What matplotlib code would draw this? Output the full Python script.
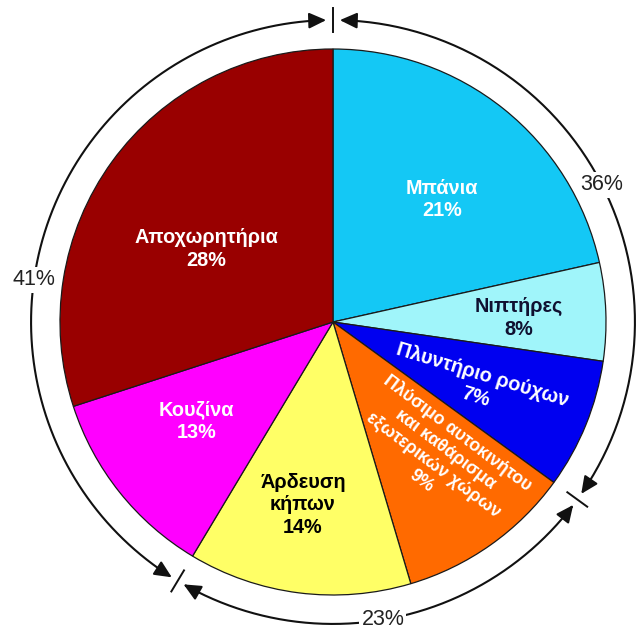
import numpy as np
import matplotlib.pyplot as plt
from matplotlib.patches import FancyArrowPatch
from matplotlib.path import Path

plt.rcParams['font.family'] = ['Liberation Sans', 'DejaVu Sans']

# Κατανάλωση νερού ανά χρήση (μέγεθος τομέων όπως φαίνεται στο σχήμα)
categories = ['Μπάνια', 'Νιπτήρες', 'Πλυντήριο ρούχων',
              'Πλύσιμο αυτοκινήτου\nκαι καθάρισμα\nεξωτερικών χώρων',
              'Άρδευση\nκήπων', 'Κουζίνα', 'Αποχωρητήρια']
sizes = [21.5, 5.8, 7.7, 10.4, 13.2, 11.4, 30.0]
pct_labels = ['21%', '8%', '7%', '9%', '14%', '13%', '28%']
colors = ['#14c8f5', '#a0f5fa', '#0000f0', '#ff6a00', '#ffff66', '#ff00ff', '#990000']
text_colors = ['white', '#101030', 'white', 'white', 'black', 'white', 'white']

# ομάδες (αριθμός τομέων σε κάθε ομάδα) και ποσοστά ομάδων
group_counts = [3, 2, 2]
group_labels = ['36%', '23%', '41%']

# θέσεις/περιστροφές ετικετών (layout)
label_pos = [(0.40, 0.45), (0.68, 0.015), (0.535, -0.234), (0.392, -0.495),
             (-0.11, -0.67), (-0.50, -0.363), (-0.465, 0.267)]
label_rot = [0, 0, -17, -37, 0, 0, 0]
label_fs = [14.3, 14.3, 14.3, 12.8, 14.3, 14.3, 14.3]
group_label_ang = [27, -80.5, 172]

fig = plt.figure(figsize=(6.4, 6.29), dpi=100)
L = 1.15
# κέντρο πίτας στα (333, 322) px, ακτίνα 273 px
ax = fig.add_axes([(333 - L * 273) / 640, (307 - L * 273) / 629,
                   2 * L * 273 / 640, 2 * L * 273 / 629])
ax.pie(sizes, colors=colors, startangle=90, counterclock=False, radius=1,
       wedgeprops=dict(edgecolor='#1a1a1a', linewidth=0.9))
ax.set_xlim(-L, L)
ax.set_ylim(-L, L)
ax.axis('off')

for i, cat in enumerate(categories):
    ax.text(label_pos[i][0], label_pos[i][1], cat + '\n' + pct_labels[i],
            ha='center', va='center', multialignment='center',
            rotation=label_rot[i], rotation_mode='anchor',
            color=text_colors[i], fontsize=label_fs[i], fontweight='bold',
            linespacing=1.22)

# εξωτερικά τόξα ομάδων
R = 1.106
cum = np.cumsum(sizes)
bounds = [0]
idx = 0
for c in group_counts:
    idx += c
    bounds.append(cum[idx - 1])
angs = [90 - 3.6 * b for b in bounds]

gap = 1.3
for g in range(len(group_counts)):
    a0 = angs[g] - gap
    a1 = angs[g + 1] + gap
    t = np.radians(np.linspace(a0, a1, 200))
    verts = np.column_stack([R * np.cos(t), R * np.sin(t)])
    arr = FancyArrowPatch(path=Path(verts), arrowstyle='<|-|>,head_length=0.65,head_width=0.3',
                          mutation_scale=16, color='#111111', linewidth=1.5)
    ax.add_patch(arr)
    la = np.radians(group_label_ang[g])
    ax.text(R * np.cos(la), R * np.sin(la), group_labels[g], ha='center', va='center',
            fontsize=15.5, color='#222222',
            bbox=dict(facecolor='white', edgecolor='none', pad=1.5))

for a in angs[:-1]:
    r = np.radians(a)
    ax.plot([(R - 0.045) * np.cos(r), (R + 0.045) * np.cos(r)],
            [(R - 0.045) * np.sin(r), (R + 0.045) * np.sin(r)],
            color='#111111', linewidth=1.4, clip_on=False)

fig.savefig('out.png', dpi=100)
